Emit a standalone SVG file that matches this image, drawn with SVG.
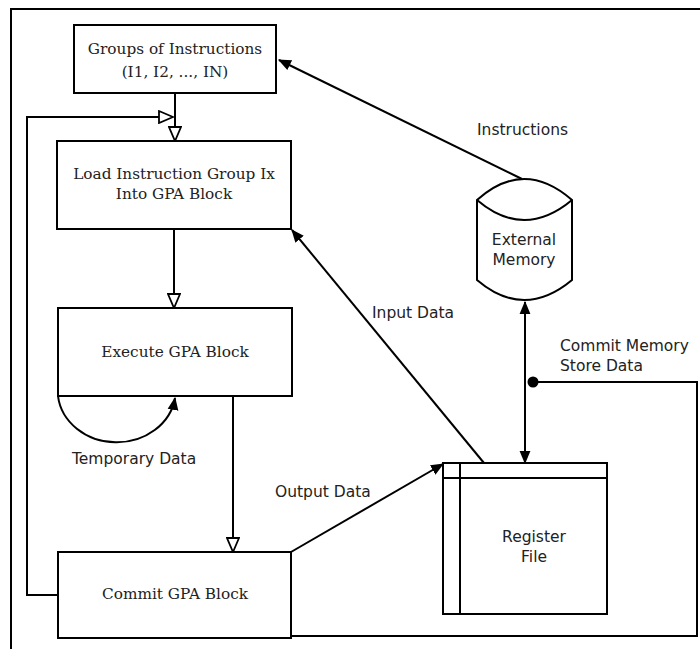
<svg xmlns="http://www.w3.org/2000/svg" width="700" height="649" viewBox="0 0 700 649">
  <style>
    .box { fill: #ffffff; stroke: #000000; stroke-width: 2; }
    .line { fill: none; stroke: #000000; stroke-width: 2; }
    .serif { font-family: "DejaVu Serif", "Liberation Serif", serif; font-size: 15.3px; fill: #222222; text-anchor: middle; }
    .sans { font-family: "DejaVu Sans", "Liberation Sans", sans-serif; font-size: 15.5px; fill: #222222; }
    .mid { text-anchor: middle; }
  </style>
  <defs>
    <marker id="hollow" viewBox="0 0 16 14" refX="15" refY="7" markerWidth="16" markerHeight="14" markerUnits="userSpaceOnUse" orient="auto">
      <path d="M1,1 L15,7 L1,13 Z" fill="#ffffff" stroke="#000000" stroke-width="1.8"/>
    </marker>
    <marker id="solid" viewBox="0 0 12 12" refX="11" refY="6" markerWidth="13" markerHeight="13" markerUnits="userSpaceOnUse" orient="auto">
      <path d="M0,1 L12,6 L0,11 Z" fill="#000000"/>
    </marker>
    <marker id="solidStart" viewBox="0 0 12 12" refX="1" refY="6" markerWidth="13" markerHeight="13" markerUnits="userSpaceOnUse" orient="auto">
      <path d="M12,1 L0,6 L12,11 Z" fill="#000000"/>
    </marker>
  </defs>

  <rect width="700" height="649" fill="#ffffff"/>

  <!-- outer frame -->
  <path class="line" d="M11,649 L11,9 L700,9"/>

  <g id="connectors">
    <!-- Groups -> Load -->
    <path class="line" d="M175,93 L175,141" marker-end="url(#hollow)"/>
    <!-- Commit loop back to top -->
    <path class="line" d="M58,595 L27,595 L27,117 L173,117" marker-end="url(#hollow)"/>
    <!-- Load -> Execute -->
    <path class="line" d="M174,229 L174,308" marker-end="url(#hollow)"/>
    <!-- Execute -> Commit -->
    <path class="line" d="M233,396 L233,552" marker-end="url(#hollow)"/>
    <!-- Execute self loop -->
    <path class="line" d="M58,396 A59,52 0 0 0 175,398" marker-end="url(#solid)"/>
    <!-- Memory -> Groups -->
    <path class="line" d="M522,179 L279,60" marker-end="url(#solid)"/>
    <!-- Register -> Load -->
    <path class="line" d="M484,463 L292,230" marker-end="url(#solid)"/>
    <!-- Commit -> Register -->
    <path class="line" d="M291,552 L443,464" marker-end="url(#solid)"/>
    <!-- Memory <-> Register -->
    <path class="line" d="M525,302 L525,463" marker-start="url(#solidStart)" marker-end="url(#solid)"/>
    <!-- Commit store path -->
    <path class="line" d="M291,636 L697,636 L697,382 L533,382"/>
    <circle cx="533" cy="382" r="5.5" fill="#000000"/>
  </g>

  <g id="groups">
    <rect class="box" x="74" y="25" width="202" height="68"/>
    <text class="serif" x="175" y="54">Groups of Instructions</text>
    <text class="serif" x="175" y="77">(I1, I2, ..., IN)</text>
  </g>

  <g id="load">
    <rect class="box" x="57" y="141" width="234" height="88"/>
    <text class="serif" x="174" y="179">Load Instruction Group Ix</text>
    <text class="serif" x="174" y="199">Into GPA Block</text>
  </g>

  <g id="execute">
    <rect class="box" x="58" y="308" width="234" height="88"/>
    <text class="serif" x="175" y="357">Execute GPA Block</text>
  </g>

  <g id="commit">
    <rect class="box" x="58" y="552" width="233" height="86"/>
    <text class="serif" x="175" y="599">Commit GPA Block</text>
  </g>

  <g id="memory">
    <path class="box" d="M477,200 Q524,158 572,200 L572,280 Q524,320 477,280 Z"/>
    <path class="line" d="M477,200 Q524,240 572,200"/>
    <text class="sans mid" x="524" y="245">External</text>
    <text class="sans mid" x="524" y="265">Memory</text>
  </g>

  <g id="register">
    <rect class="box" x="443" y="463" width="164" height="151"/>
    <path class="line" d="M443,478 L607,478 M460,463 L460,614"/>
    <text class="sans mid" x="534" y="542">Register</text>
    <text class="sans mid" x="534" y="562">File</text>
  </g>

  <g id="labels">
    <text class="sans" x="477" y="135">Instructions</text>
    <text class="sans" x="372" y="318">Input Data</text>
    <text class="sans" x="560" y="351">Commit Memory</text>
    <text class="sans" x="560" y="371">Store Data</text>
    <text class="sans" x="72" y="464">Temporary Data</text>
    <text class="sans" x="275" y="497">Output Data</text>
  </g>
</svg>
